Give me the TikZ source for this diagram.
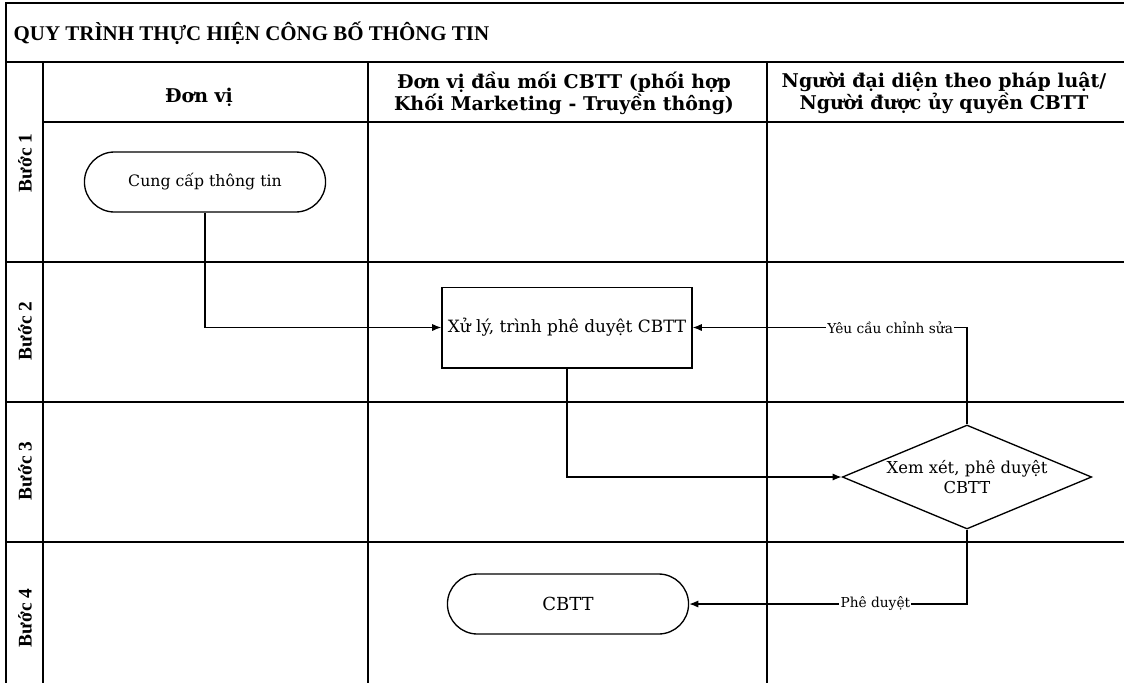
\documentclass[tikz,border=0pt]{standalone}
\usepackage{fontspec}
\setmainfont{Liberation Serif}
\newfontfamily\nodefont{DejaVu Serif}
\usetikzlibrary{arrows.meta,positioning,shapes.geometric,shapes.misc}
\tikzset{
  lane/.style   = {line width=1.1pt, draw=black},
  term/.style   = {rounded rectangle, draw, line width=1pt, fill=white,
                   minimum width=187.5pt, minimum height=45pt,
                   font=\nodefont\fontsize{11.8}{14}\selectfont},
  proc/.style   = {rectangle, draw, line width=1pt, fill=white,
                   minimum width=187.5pt, minimum height=60.5pt, inner sep=2pt,
                   font=\nodefont\fontsize{12.7}{15}\selectfont},
  decide/.style = {diamond, draw, line width=1pt, fill=white, aspect=2.4,
                   inner sep=0pt, minimum width=187pt, minimum height=78pt,
                   align=center, font=\nodefont\fontsize{12.3}{15}\selectfont},
  ar/.style     = {-{Latex[length=2.4mm,width=1.9mm]}, line width=1pt},
  lbl/.style    = {fill=white, inner sep=1pt, font=\nodefont\fontsize{10.3}{12}\selectfont},
  colhead/.style= {align=center, font=\nodefont\bfseries\fontsize{14.2}{16.5}\selectfont},
  stephead/.style={rotate=90, font=\bfseries\fontsize{14.5}{16}\selectfont},
}
\begin{document}
\begin{tikzpicture}[x=0.75pt,y=-0.75pt]
  \useasboundingbox (0,0) rectangle (1124,683);

  % frame and lanes
  \draw[lane] (1124,3) -- (6,3) -- (6,683);
  \draw[lane] (6,62) -- (1124,62);
  \draw[lane] (43,62) -- (43,683);
  \draw[lane] (43,122) -- (1124,122);
  \foreach \y in {262,402,542}
    \draw[lane] (6,\y) -- (1124,\y);
  \foreach \x in {368,767}
    \draw[lane] (\x,62) -- (\x,683);

  \node[anchor=west, font=\bfseries\fontsize{15.7}{18}\selectfont] (title) at (9,33)
       {QUY TRÌNH THỰC HIỆN CÔNG BỐ THÔNG TIN};

  % column and step headers
  \node[colhead] (hdonvi) at (199,97) {Đơn vị};
  \node[colhead] (hdaumoi) at (564,93) {Đơn vị đầu mối CBTT (phối hợp\\Khối Marketing - Truyền thông)};
  \node[colhead] (hnguoi) at (944,93) {Người đại diện theo pháp luật/\\Người được ủy quyền CBTT};
  \node[stephead] (b1) at (25,163) {Bước 1};
  \node[stephead] (b2) at (25,331) {Bước 2};
  \node[stephead] (b3) at (25,471) {Bước 3};
  \node[stephead] (b4) at (25,618) {Bước 4};

  % flow
  \node[term] (cungcap) at (205,182) {Cung cấp thông tin};
  \node[proc] (xuly) at (567,327.5) {Xử lý, trình phê duyệt CBTT};
  \node[decide] (xemxet) at (967,477) {Xem xét, phê duyệt\\CBTT};
  \node[term, font=\nodefont\fontsize{13.5}{15}\selectfont] (cbtt) at (568,604) {CBTT};

  \draw[ar] (cungcap.south) |- (xuly.west);
  \draw[ar] (xuly.south) |- (xemxet.west);
  \draw[ar] (xemxet.north) |- node[lbl, pos=0.64] {Yêu cầu chỉnh sửa} (xuly.east);
  \draw[ar] (xemxet.south) |- node[lbl, pos=0.665] {Phê duyệt} (cbtt.east);
\end{tikzpicture}
\end{document}
